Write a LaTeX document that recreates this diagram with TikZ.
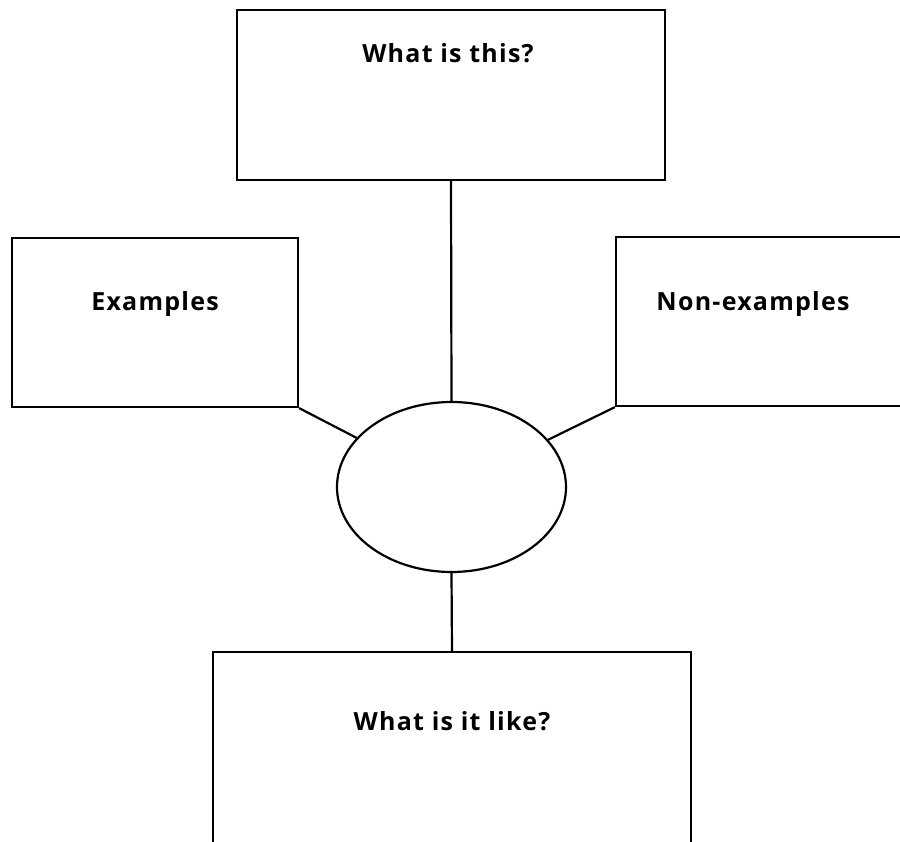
\documentclass[tikz,border=0pt]{standalone}
\usepackage{fontspec}
\setmainfont{Open Sans}[LetterSpace=5]
\usetikzlibrary{shapes.geometric}
\tikzset{
  box/.style={draw, line width=2.2pt, rectangle, inner sep=0pt, minimum width=#1},
  lbl/.style={anchor=base, inner sep=0pt, font=\fontsize{25}{28}\selectfont\bfseries},
  conn/.style={line width=2.2pt},
}
\begin{document}
\begin{tikzpicture}[x=1pt,y=-1pt]
\useasboundingbox (0,0) rectangle (900,842);
\node[box=428pt, minimum height=170pt] (top) at (451,95) {};
\node[box=286pt, minimum height=169pt] (ex) at (155,322.5) {};
\node[box=294pt, minimum height=169pt] (nex) at (763,321.5) {};
\node[box=478pt, minimum height=208pt] (bot) at (452,756) {};
\node[draw, ellipse, line width=2.2pt, minimum width=229pt, minimum height=170pt, inner sep=0pt] (el) at (451.5,487) {};
\node[lbl] (toptxt) at (448,63) {What is this?};
\node[lbl] (extxt) at (155,311) {Examples};
\node[lbl] (nextxt) at (753,311) {Non-examples};
\node[lbl] (bottxt) at (452,730) {What is it like?};
\draw[conn] (top.south) -- (el.north);
\draw[conn] (el.south) -- (bot.north);
\draw[conn] (ex.south east) -- (el);
\draw[conn] (nex.south west) -- (el);
\end{tikzpicture}
\end{document}
